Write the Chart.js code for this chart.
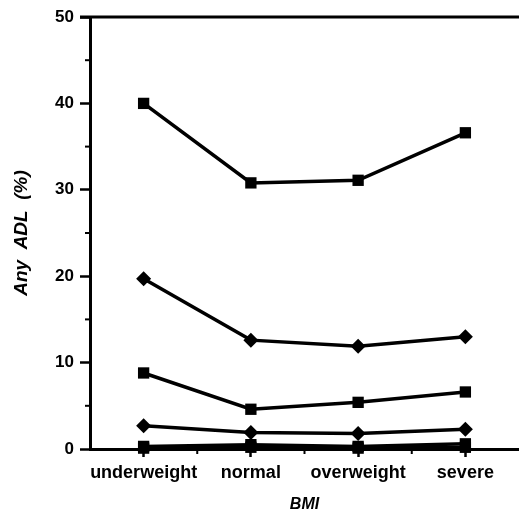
<!DOCTYPE html>
<html>
<head>
<meta charset="utf-8">
<script src="https://cdn.jsdelivr.net/npm/chart.js@4/dist/chart.umd.min.js"></script>
<style>
  html, body { margin: 0; padding: 0; background: #fff; }
  #wrap { width: 519px; height: 520px; }
</style>
</head>
<body>
<div id="wrap"><canvas id="adl-chart"></canvas></div>
<script>
const categories = ["underweight", "normal", "overweight", "severe"];
const yTicks = [0, 10, 20, 30, 40, 50];

// series, top to bottom
const seriesA = [40.0, 30.8, 31.1, 36.6];  // squares
const seriesB = [19.7, 12.6, 11.9, 13.0];  // diamonds
const seriesC = [8.8, 4.6, 5.4, 6.6];      // squares
const seriesD = [2.7, 1.9, 1.8, 2.3];      // diamonds
const seriesE = [0.3, 0.5, 0.3, 0.6];      // squares
const seriesF = [0.1, 0.2, 0.1, 0.2];      // squares, almost on the axis

const ink = '#000';

function line(data, style) {
    return {
        data: data,
        borderColor: ink,
        backgroundColor: ink,
        borderWidth: 3.5,
        pointStyle: style,
        pointRadius: style === 'rect' ? 8 : 7.5,
        pointBorderWidth: 0,
        tension: 0,
        clip: false,
    };
}

// minor ticks, frame line along the top
const extras = {
    id: 'extras',
    afterDraw(chart) {
        const ctx = chart.ctx;
        const area = chart.chartArea;
        const x = chart.scales.x;
        const y = chart.scales.y;
        ctx.save();
        ctx.strokeStyle = ink;
        ctx.lineWidth = 2;
        [5, 15, 25, 35, 45].forEach(v => {
            const py = y.getPixelForValue(v);
            ctx.beginPath();
            ctx.moveTo(area.left - 5, py);
            ctx.lineTo(area.left, py);
            ctx.stroke();
        });
        for (let i = 0; i < categories.length - 1; i++) {
            const px = x.getPixelForValue(i + 0.5);
            ctx.beginPath();
            ctx.moveTo(px, area.bottom);
            ctx.lineTo(px, area.bottom + 5);
            ctx.stroke();
        }
        ctx.lineWidth = 3;
        ctx.beginPath();
        ctx.moveTo(area.left - 10, area.top);
        ctx.lineTo(chart.width, area.top);
        ctx.stroke();
        ctx.restore();
    }
};

new Chart(document.querySelector('#adl-chart').getContext('2d'), {
    type: 'line',
    data: {
        labels: categories,
        datasets: [
            line(seriesF, 'rect'),
            line(seriesE, 'rect'),
            line(seriesD, 'rectRot'),
            line(seriesC, 'rect'),
            line(seriesB, 'rectRot'),
            line(seriesA, 'rect'),
        ]
    },
    options: {
        responsive: true,
        maintainAspectRatio: false,
        animation: false,
        layout: { autoPadding: false, padding: { top: 17, right: 0, left: 0, bottom: 0 } },
        plugins: {
            legend: { display: false },
            tooltip: { enabled: false },
        },
        scales: {
            x: {
                type: 'category',
                offset: true,
                grid: {
                    offset: false,
                    drawOnChartArea: false,
                    tickLength: 8,
                    tickWidth: 2.5,
                    tickColor: ink,
                },
                border: { color: ink, width: 3 },
                ticks: {
                    color: ink,
                    padding: 5,
                    maxRotation: 0,
                    autoSkip: false,
                    font: { family: 'Liberation Sans', size: 18, weight: 'bold' },
                },
                title: {
                    display: true,
                    text: 'BMI',
                    color: ink,
                    padding: { top: 8, bottom: 6 },
                    font: { family: 'Liberation Sans', size: 16, weight: 'bold', style: 'italic' },
                },
                afterFit(scale) {
                    scale.height = 71;
                    scale.paddingLeft = 0;
                    scale.paddingRight = 0;
                },
            },
            y: {
                min: 0,
                max: 50,
                afterBuildTicks(scale) { scale.ticks = yTicks.map(v => ({ value: v })); },
                grid: {
                    drawOnChartArea: false,
                    tickLength: 10,
                    tickWidth: 2.5,
                    tickColor: ink,
                },
                border: { color: ink, width: 3 },
                ticks: {
                    color: ink,
                    padding: 6,
                    font: { family: 'Liberation Sans', size: 17, weight: 'bold' },
                },
                title: {
                    display: true,
                    text: 'Any  ADL  (%)',
                    color: ink,
                    padding: { top: 10, bottom: 4 },
                    font: { family: 'Liberation Sans', size: 19, weight: 'bold', style: 'italic' },
                },
                afterFit(scale) {
                    scale.width = 90;
                    scale.paddingTop = 0;
                    scale.paddingBottom = 0;
                },
            }
        }
    },
    plugins: [extras]
});
</script>
</body>
</html>
